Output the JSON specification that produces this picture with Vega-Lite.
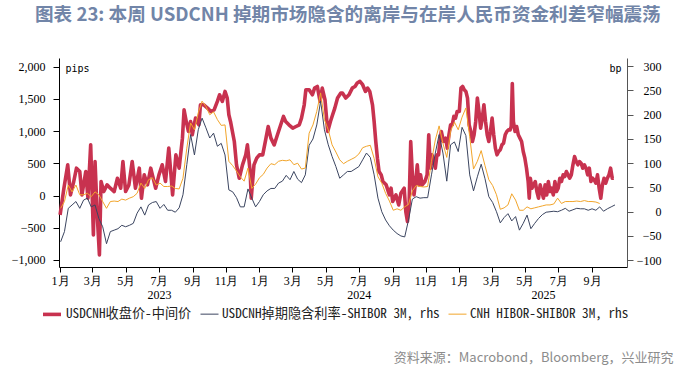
{
  "$schema": "https://vega.github.io/schema/vega-lite/v6.json",
  "width": 568,
  "height": 209,
  "autosize": "none",
  "padding": {"left": 59, "top": 58, "right": 72, "bottom": 100},
  "background": "white",
  "title": {
    "text": "图表 23: 本周 USDCNH 掉期市场隐含的离岸与在岸人民币资金利差窄幅震荡",
    "anchor": "start",
    "frame": "group",
    "dx": -24,
    "offset": 33,
    "font": "Noto Sans CJK SC",
    "fontSize": 18.6,
    "fontWeight": "bold",
    "color": "#7185a8"
  },
  "datasets": {
    "red": [
      {"d": "2023-01-01", "a": -300}, {"d": "2023-01-08", "a": 114}, {"d": "2023-01-15", "a": 477}, {"d": "2023-01-20", "a": 10},
      {"d": "2023-01-26", "a": 218}, {"d": "2023-01-31", "a": 425}, {"d": "2023-02-06", "a": 373}, {"d": "2023-02-10", "a": 10},
      {"d": "2023-02-17", "a": 373}, {"d": "2023-02-21", "a": -41}, {"d": "2023-02-26", "a": 787}, {"d": "2023-03-03", "a": -611},
      {"d": "2023-03-06", "a": 528}, {"d": "2023-03-10", "a": -300}, {"d": "2023-03-14", "a": -922}, {"d": "2023-03-17", "a": 218},
      {"d": "2023-03-22", "a": 62}, {"d": "2023-03-28", "a": 166}, {"d": "2023-04-03", "a": 114}, {"d": "2023-04-10", "a": 62},
      {"d": "2023-04-16", "a": 269}, {"d": "2023-04-22", "a": 114}, {"d": "2023-04-26", "a": 528}, {"d": "2023-05-01", "a": 62},
      {"d": "2023-05-07", "a": 166}, {"d": "2023-05-13", "a": 528}, {"d": "2023-05-19", "a": 114}, {"d": "2023-05-26", "a": 425},
      {"d": "2023-05-30", "a": -41}, {"d": "2023-06-04", "a": 321}, {"d": "2023-06-10", "a": 166}, {"d": "2023-06-16", "a": 425},
      {"d": "2023-06-19", "a": 321}, {"d": "2023-06-25", "a": 114}, {"d": "2023-07-01", "a": 321}, {"d": "2023-07-07", "a": 477},
      {"d": "2023-07-13", "a": 218}, {"d": "2023-07-19", "a": 736}, {"d": "2023-07-26", "a": 10}, {"d": "2023-08-01", "a": 632},
      {"d": "2023-08-07", "a": 425}, {"d": "2023-08-13", "a": 891}, {"d": "2023-08-16", "a": 1331}, {"d": "2023-08-20", "a": 1150},
      {"d": "2023-08-24", "a": 995}, {"d": "2023-08-28", "a": 1150}, {"d": "2023-08-31", "a": 943}, {"d": "2023-09-06", "a": 1202},
      {"d": "2023-09-12", "a": 1098}, {"d": "2023-09-15", "a": 1409}, {"d": "2023-09-21", "a": 1409}, {"d": "2023-09-28", "a": 1357},
      {"d": "2023-10-04", "a": 1305}, {"d": "2023-10-10", "a": 1331}, {"d": "2023-10-16", "a": 1461}, {"d": "2023-10-20", "a": 1564},
      {"d": "2023-10-25", "a": 1461}, {"d": "2023-10-30", "a": 1616}, {"d": "2023-11-03", "a": 1513}, {"d": "2023-11-06", "a": 1254},
      {"d": "2023-11-09", "a": 1150}, {"d": "2023-11-16", "a": 839}, {"d": "2023-11-20", "a": 477}, {"d": "2023-11-25", "a": 269},
      {"d": "2023-12-01", "a": 477}, {"d": "2023-12-07", "a": 632}, {"d": "2023-12-10", "a": 787}, {"d": "2023-12-15", "a": 373},
      {"d": "2023-12-17", "a": -41}, {"d": "2023-12-22", "a": 477}, {"d": "2023-12-27", "a": 580}, {"d": "2024-01-01", "a": 632},
      {"d": "2024-01-07", "a": 632}, {"d": "2024-01-13", "a": 891}, {"d": "2024-01-17", "a": 1072}, {"d": "2024-01-22", "a": 891},
      {"d": "2024-01-28", "a": 787}, {"d": "2024-02-03", "a": 943}, {"d": "2024-02-09", "a": 1098}, {"d": "2024-02-14", "a": 1228},
      {"d": "2024-02-18", "a": 1150}, {"d": "2024-02-24", "a": 1098}, {"d": "2024-03-02", "a": 1046}, {"d": "2024-03-08", "a": 1072},
      {"d": "2024-03-14", "a": 1098}, {"d": "2024-03-18", "a": 1202}, {"d": "2024-03-23", "a": 1409}, {"d": "2024-03-26", "a": 1642},
      {"d": "2024-04-01", "a": 1642}, {"d": "2024-04-07", "a": 1564}, {"d": "2024-04-11", "a": 1668}, {"d": "2024-04-16", "a": 1694},
      {"d": "2024-04-21", "a": 1461}, {"d": "2024-04-25", "a": 1668}, {"d": "2024-04-30", "a": 1487}, {"d": "2024-05-05", "a": 995},
      {"d": "2024-05-10", "a": 1150}, {"d": "2024-05-14", "a": 1254}, {"d": "2024-05-18", "a": 1357}, {"d": "2024-05-23", "a": 1513},
      {"d": "2024-05-29", "a": 1590}, {"d": "2024-06-01", "a": 1590}, {"d": "2024-06-07", "a": 1513}, {"d": "2024-06-13", "a": 1564},
      {"d": "2024-06-19", "a": 1668}, {"d": "2024-06-24", "a": 1694}, {"d": "2024-06-28", "a": 1746}, {"d": "2024-07-03", "a": 1772},
      {"d": "2024-07-08", "a": 1720}, {"d": "2024-07-13", "a": 1616}, {"d": "2024-07-17", "a": 1668}, {"d": "2024-07-21", "a": 1616},
      {"d": "2024-07-26", "a": 1409}, {"d": "2024-07-29", "a": 1150}, {"d": "2024-08-01", "a": 839}, {"d": "2024-08-04", "a": 580},
      {"d": "2024-08-07", "a": 373}, {"d": "2024-08-11", "a": 321}, {"d": "2024-08-14", "a": 218}, {"d": "2024-08-20", "a": 166},
      {"d": "2024-08-26", "a": 10}, {"d": "2024-08-29", "a": 114}, {"d": "2024-09-01", "a": -93}, {"d": "2024-09-04", "a": -41},
      {"d": "2024-09-07", "a": 10}, {"d": "2024-09-12", "a": -145}, {"d": "2024-09-16", "a": 36}, {"d": "2024-09-22", "a": 114},
      {"d": "2024-09-25", "a": -249}, {"d": "2024-09-28", "a": -404}, {"d": "2024-10-01", "a": -145}, {"d": "2024-10-04", "a": 839},
      {"d": "2024-10-07", "a": 321}, {"d": "2024-10-10", "a": 10}, {"d": "2024-10-13", "a": 218}, {"d": "2024-10-16", "a": 477},
      {"d": "2024-10-19", "a": 166}, {"d": "2024-10-22", "a": 321}, {"d": "2024-10-25", "a": 166}, {"d": "2024-10-30", "a": 218},
      {"d": "2024-11-03", "a": 321}, {"d": "2024-11-06", "a": 943}, {"d": "2024-11-09", "a": 425}, {"d": "2024-11-12", "a": 632},
      {"d": "2024-11-15", "a": 528}, {"d": "2024-11-18", "a": 425}, {"d": "2024-11-21", "a": 632}, {"d": "2024-11-24", "a": 632},
      {"d": "2024-11-27", "a": 891}, {"d": "2024-11-29", "a": 995}, {"d": "2024-12-03", "a": 839}, {"d": "2024-12-07", "a": 891},
      {"d": "2024-12-10", "a": 736}, {"d": "2024-12-13", "a": 943}, {"d": "2024-12-16", "a": 1098}, {"d": "2024-12-19", "a": 1098},
      {"d": "2024-12-22", "a": 1228}, {"d": "2024-12-25", "a": 1202}, {"d": "2024-12-28", "a": 1305}, {"d": "2025-01-01", "a": 1305},
      {"d": "2025-01-04", "a": 1668}, {"d": "2025-01-07", "a": 1694}, {"d": "2025-01-10", "a": 1642}, {"d": "2025-01-13", "a": 1616},
      {"d": "2025-01-16", "a": 1513}, {"d": "2025-01-19", "a": 1098}, {"d": "2025-01-22", "a": 995}, {"d": "2025-01-25", "a": 839},
      {"d": "2025-01-28", "a": 943}, {"d": "2025-01-31", "a": 1150}, {"d": "2025-02-03", "a": 1513}, {"d": "2025-02-06", "a": 1305},
      {"d": "2025-02-09", "a": 1046}, {"d": "2025-02-12", "a": 1202}, {"d": "2025-02-15", "a": 1409}, {"d": "2025-02-18", "a": 1150},
      {"d": "2025-02-21", "a": 943}, {"d": "2025-02-24", "a": 839}, {"d": "2025-02-27", "a": 995}, {"d": "2025-03-02", "a": 1202},
      {"d": "2025-03-05", "a": 943}, {"d": "2025-03-08", "a": 736}, {"d": "2025-03-11", "a": 632}, {"d": "2025-03-14", "a": 684},
      {"d": "2025-03-17", "a": 710}, {"d": "2025-03-20", "a": 787}, {"d": "2025-03-23", "a": 813}, {"d": "2025-03-26", "a": 943},
      {"d": "2025-03-29", "a": 995}, {"d": "2025-04-01", "a": 1020}, {"d": "2025-04-04", "a": 1020}, {"d": "2025-04-06", "a": 1072},
      {"d": "2025-04-08", "a": 1740}, {"d": "2025-04-10", "a": 1150}, {"d": "2025-04-13", "a": 995}, {"d": "2025-04-16", "a": 1072},
      {"d": "2025-04-19", "a": 943}, {"d": "2025-04-22", "a": 891}, {"d": "2025-04-25", "a": 839}, {"d": "2025-04-28", "a": 684},
      {"d": "2025-05-01", "a": 580}, {"d": "2025-05-04", "a": 425}, {"d": "2025-05-07", "a": 218}, {"d": "2025-05-09", "a": -41},
      {"d": "2025-05-11", "a": 269}, {"d": "2025-05-14", "a": 114}, {"d": "2025-05-20", "a": 218}, {"d": "2025-05-23", "a": 62},
      {"d": "2025-05-26", "a": -41}, {"d": "2025-05-29", "a": 166}, {"d": "2025-06-01", "a": 62}, {"d": "2025-06-04", "a": -41},
      {"d": "2025-06-07", "a": 166}, {"d": "2025-06-10", "a": 10}, {"d": "2025-06-13", "a": 218}, {"d": "2025-06-16", "a": 62},
      {"d": "2025-06-19", "a": 114}, {"d": "2025-06-22", "a": 10}, {"d": "2025-06-25", "a": 218}, {"d": "2025-06-28", "a": 62},
      {"d": "2025-07-01", "a": 114}, {"d": "2025-07-04", "a": 269}, {"d": "2025-07-07", "a": 218}, {"d": "2025-07-10", "a": 321},
      {"d": "2025-07-13", "a": 295}, {"d": "2025-07-16", "a": 373}, {"d": "2025-07-19", "a": 321}, {"d": "2025-07-22", "a": 269},
      {"d": "2025-07-25", "a": 321}, {"d": "2025-07-28", "a": 477}, {"d": "2025-07-31", "a": 606}, {"d": "2025-08-03", "a": 528},
      {"d": "2025-08-06", "a": 477}, {"d": "2025-08-09", "a": 528}, {"d": "2025-08-12", "a": 502}, {"d": "2025-08-15", "a": 425},
      {"d": "2025-08-18", "a": 477}, {"d": "2025-08-21", "a": 425}, {"d": "2025-08-24", "a": 321}, {"d": "2025-08-27", "a": 425},
      {"d": "2025-08-30", "a": 218}, {"d": "2025-09-02", "a": 269}, {"d": "2025-09-05", "a": 243}, {"d": "2025-09-08", "a": 192},
      {"d": "2025-09-11", "a": 321}, {"d": "2025-09-14", "a": 114}, {"d": "2025-09-17", "a": -41}, {"d": "2025-09-20", "a": 166},
      {"d": "2025-09-23", "a": 269}, {"d": "2025-09-26", "a": 192}, {"d": "2025-09-29", "a": 269}, {"d": "2025-10-02", "a": 321},
      {"d": "2025-10-05", "a": 425}, {"d": "2025-10-08", "a": 269}, {"d": "2025-10-11", "a": 269}
    ],
    "rates": [
      {"d": "2023-01-02", "b": -62, "c": 7}, {"d": "2023-01-09", "b": -41, "c": 21}, {"d": "2023-01-16", "b": 7, "c": 55},
      {"d": "2023-01-23", "b": 14, "c": 41}, {"d": "2023-01-30", "b": 21, "c": 55}, {"d": "2023-02-06", "b": 7, "c": 35},
      {"d": "2023-02-13", "b": 24, "c": 35}, {"d": "2023-02-20", "b": 28, "c": 38}, {"d": "2023-02-27", "b": 10, "c": 31},
      {"d": "2023-03-06", "b": 14, "c": 41}, {"d": "2023-03-13", "b": -14, "c": 35}, {"d": "2023-03-20", "b": -31, "c": 21},
      {"d": "2023-03-27", "b": -66, "c": 7}, {"d": "2023-04-03", "b": -41, "c": 21}, {"d": "2023-04-10", "b": -38, "c": 22},
      {"d": "2023-04-17", "b": -35, "c": 21}, {"d": "2023-04-24", "b": -28, "c": 26}, {"d": "2023-05-01", "b": -31, "c": 24},
      {"d": "2023-05-08", "b": -28, "c": 28}, {"d": "2023-05-15", "b": -24, "c": 31}, {"d": "2023-05-22", "b": -3, "c": 38},
      {"d": "2023-05-29", "b": 10, "c": 59}, {"d": "2023-06-05", "b": -7, "c": 48}, {"d": "2023-06-12", "b": 14, "c": 66},
      {"d": "2023-06-19", "b": 19, "c": 70}, {"d": "2023-06-26", "b": 21, "c": 55}, {"d": "2023-07-03", "b": 7, "c": 59},
      {"d": "2023-07-10", "b": 15, "c": 52}, {"d": "2023-07-17", "b": 3, "c": 52}, {"d": "2023-07-24", "b": 3, "c": 53},
      {"d": "2023-07-31", "b": -1, "c": 48}, {"d": "2023-08-07", "b": 8, "c": 47}, {"d": "2023-08-14", "b": 35, "c": 69},
      {"d": "2023-08-21", "b": 97, "c": 131}, {"d": "2023-08-28", "b": 159, "c": 183}, {"d": "2023-09-04", "b": 117, "c": 169},
      {"d": "2023-09-11", "b": 169, "c": 204}, {"d": "2023-09-18", "b": 193, "c": 228}, {"d": "2023-09-25", "b": 173, "c": 217},
      {"d": "2023-10-02", "b": 152, "c": 200}, {"d": "2023-10-09", "b": 162, "c": 206}, {"d": "2023-10-16", "b": 135, "c": 190},
      {"d": "2023-10-23", "b": 141, "c": 178}, {"d": "2023-10-30", "b": 117, "c": 179}, {"d": "2023-11-06", "b": 45, "c": 104},
      {"d": "2023-11-13", "b": 41, "c": 95}, {"d": "2023-11-20", "b": 29, "c": 84}, {"d": "2023-11-27", "b": 10, "c": 72},
      {"d": "2023-12-04", "b": 10, "c": 63}, {"d": "2023-12-11", "b": 47, "c": 90}, {"d": "2023-12-18", "b": 28, "c": 48},
      {"d": "2023-12-25", "b": 10, "c": 57}, {"d": "2024-01-01", "b": 21, "c": 70}, {"d": "2024-01-08", "b": 35, "c": 77},
      {"d": "2024-01-15", "b": 43, "c": 90}, {"d": "2024-01-22", "b": 48, "c": 99}, {"d": "2024-01-29", "b": 48, "c": 97},
      {"d": "2024-02-05", "b": 59, "c": 104}, {"d": "2024-02-12", "b": 63, "c": 106}, {"d": "2024-02-19", "b": 75, "c": 105},
      {"d": "2024-02-26", "b": 66, "c": 107}, {"d": "2024-03-04", "b": 83, "c": 97}, {"d": "2024-03-11", "b": 67, "c": 100},
      {"d": "2024-03-18", "b": 60, "c": 88}, {"d": "2024-03-25", "b": 76, "c": 90}, {"d": "2024-04-01", "b": 137, "c": 162},
      {"d": "2024-04-08", "b": 150, "c": 179}, {"d": "2024-04-15", "b": 179, "c": 207}, {"d": "2024-04-22", "b": 228, "c": 245},
      {"d": "2024-04-29", "b": 169, "c": 190}, {"d": "2024-05-06", "b": 138, "c": 169}, {"d": "2024-05-13", "b": 114, "c": 138},
      {"d": "2024-05-20", "b": 93, "c": 123}, {"d": "2024-05-27", "b": 69, "c": 107}, {"d": "2024-06-03", "b": 76, "c": 99},
      {"d": "2024-06-10", "b": 83, "c": 104}, {"d": "2024-06-17", "b": 83, "c": 108}, {"d": "2024-06-24", "b": 88, "c": 112},
      {"d": "2024-07-01", "b": 93, "c": 119}, {"d": "2024-07-08", "b": 107, "c": 132}, {"d": "2024-07-15", "b": 121, "c": 135},
      {"d": "2024-07-22", "b": 112, "c": 137}, {"d": "2024-07-29", "b": 76, "c": 110}, {"d": "2024-08-05", "b": 28, "c": 72},
      {"d": "2024-08-12", "b": 0, "c": 59}, {"d": "2024-08-19", "b": -17, "c": 38}, {"d": "2024-08-26", "b": -29, "c": 22},
      {"d": "2024-09-02", "b": -38, "c": 3}, {"d": "2024-09-09", "b": -45, "c": 6}, {"d": "2024-09-16", "b": -50, "c": 3},
      {"d": "2024-09-23", "b": -52, "c": 10}, {"d": "2024-09-30", "b": -17, "c": 15}, {"d": "2024-10-07", "b": 26, "c": 43},
      {"d": "2024-10-14", "b": 31, "c": 54}, {"d": "2024-10-21", "b": 28, "c": 52}, {"d": "2024-10-28", "b": 29, "c": 51},
      {"d": "2024-11-04", "b": 29, "c": 52}, {"d": "2024-11-11", "b": 76, "c": 104}, {"d": "2024-11-18", "b": 121, "c": 148},
      {"d": "2024-11-25", "b": 159, "c": 177}, {"d": "2024-12-02", "b": 121, "c": 141}, {"d": "2024-12-09", "b": 63, "c": 112},
      {"d": "2024-12-16", "b": 138, "c": 166}, {"d": "2024-12-23", "b": 144, "c": 185}, {"d": "2024-12-30", "b": 124, "c": 169},
      {"d": "2025-01-06", "b": 174, "c": 195}, {"d": "2025-01-13", "b": 157, "c": 214}, {"d": "2025-01-20", "b": 76, "c": 155},
      {"d": "2025-01-27", "b": 43, "c": 88}, {"d": "2025-02-03", "b": 72, "c": 104}, {"d": "2025-02-10", "b": 98, "c": 126},
      {"d": "2025-02-17", "b": 68, "c": 95}, {"d": "2025-02-24", "b": 31, "c": 66}, {"d": "2025-03-03", "b": 19, "c": 54},
      {"d": "2025-03-10", "b": 0, "c": 35}, {"d": "2025-03-17", "b": -23, "c": 5}, {"d": "2025-03-24", "b": -12, "c": 8},
      {"d": "2025-03-31", "b": -4, "c": 14}, {"d": "2025-04-07", "b": -19, "c": 37}, {"d": "2025-04-14", "b": -10, "c": 24},
      {"d": "2025-04-21", "b": -38, "c": 3}, {"d": "2025-04-28", "b": -24, "c": 3}, {"d": "2025-05-05", "b": -7, "c": 10},
      {"d": "2025-05-12", "b": -35, "c": 6}, {"d": "2025-05-19", "b": -24, "c": 8}, {"d": "2025-05-26", "b": -14, "c": 10},
      {"d": "2025-06-02", "b": -6, "c": 12}, {"d": "2025-06-09", "b": -1, "c": 14}, {"d": "2025-06-16", "b": 0, "c": 14},
      {"d": "2025-06-23", "b": 1, "c": 16}, {"d": "2025-06-30", "b": 0, "c": 28}, {"d": "2025-07-07", "b": 3, "c": 17},
      {"d": "2025-07-14", "b": 7, "c": 21}, {"d": "2025-07-21", "b": 1, "c": 21}, {"d": "2025-07-28", "b": 4, "c": 21},
      {"d": "2025-08-04", "b": 7, "c": 22}, {"d": "2025-08-11", "b": 6, "c": 21}, {"d": "2025-08-18", "b": 6, "c": 23},
      {"d": "2025-08-25", "b": 3, "c": 21}, {"d": "2025-09-01", "b": 6, "c": 21}, {"d": "2025-09-08", "b": 3, "c": 20},
      {"d": "2025-09-15", "b": 10, "c": 17}, {"d": "2025-09-22", "b": 1, "c": null}, {"d": "2025-09-29", "b": 6, "c": null},
      {"d": "2025-10-06", "b": 10, "c": null}, {"d": "2025-10-13", "b": 14, "c": null}
    ]
  },
  "layer": [
    {
      "data": {"name": "red"},
      "transform": [{"fold": ["a"], "as": ["key", "value"]}],
      "mark": {"type": "line", "strokeJoin": "round"},
      "encoding": {
        "x": {
          "field": "d", "type": "temporal",
          "scale": {"domain": [{"year": 2022, "month": 12, "date": 30}, {"year": 2025, "month": 11, "date": 4}]},
          "axis": {
            "orient": "bottom", "title": null, "grid": false,
            "values": [
              {"year": 2023, "month": 1, "date": 1}, {"year": 2023, "month": 3, "date": 1}, {"year": 2023, "month": 5, "date": 1},
              {"year": 2023, "month": 7, "date": 1}, {"year": 2023, "month": 9, "date": 1}, {"year": 2023, "month": 11, "date": 1},
              {"year": 2024, "month": 1, "date": 1}, {"year": 2024, "month": 3, "date": 1}, {"year": 2024, "month": 5, "date": 1},
              {"year": 2024, "month": 7, "date": 1}, {"year": 2024, "month": 9, "date": 1}, {"year": 2024, "month": 11, "date": 1},
              {"year": 2025, "month": 1, "date": 1}, {"year": 2025, "month": 3, "date": 1}, {"year": 2025, "month": 5, "date": 1},
              {"year": 2025, "month": 7, "date": 1}, {"year": 2025, "month": 9, "date": 1}
            ],
            "labelExpr": "timeFormat(datum.value, '%-m') + '月'",
            "domainColor": "#000000", "tickColor": "#000000", "tickSize": 5,
            "labelFont": "Liberation Serif", "labelFontSize": 12, "labelColor": "#000000",
            "labelPadding": 3, "labelFlush": false, "labelOverlap": false
          }
        },
        "y": {
          "field": "value", "type": "quantitative",
          "scale": {"domain": [-1109, 2135], "nice": false, "zero": false},
          "axis": {
            "orient": "left", "grid": false,
            "values": [-1000, -500, 0, 500, 1000, 1500, 2000],
            "domainColor": "#000000", "tickColor": "#000000", "tickSize": 6,
            "labelFont": "Liberation Serif", "labelFontSize": 12, "labelColor": "#000000",
            "labelPadding": 8,
            "title": "pips", "titleAngle": 0, "titleX": 6, "titleY": 10,
            "titleAlign": "left", "titleBaseline": "middle",
            "titleFont": "DejaVu Sans Mono", "titleFontSize": 10, "titleFontWeight": "normal", "titleColor": "#000000"
          }
        },
        "color": {
          "field": "key", "type": "nominal",
          "scale": {"domain": ["a", "b", "c"], "range": ["#c8324f", "#3b4560", "#f2a52b"]},
          "legend": {"labelExpr": "datum.label == 'a' ? 'USDCNH收盘价-中间价' : datum.label == 'b' ? 'USDCNH掉期隐含利率-SHIBOR 3M, rhs' : 'CNH HIBOR-SHIBOR 3M, rhs'"}
        },
        "strokeWidth": {
          "field": "key", "type": "nominal",
          "scale": {"type": "ordinal", "domain": ["a", "b", "c"], "range": [3.6, 1, 1]},
          "legend": {"labelExpr": "datum.label == 'a' ? 'USDCNH收盘价-中间价' : datum.label == 'b' ? 'USDCNH掉期隐含利率-SHIBOR 3M, rhs' : 'CNH HIBOR-SHIBOR 3M, rhs'"}
        }
      }
    },
    {
      "data": {"name": "rates"},
      "transform": [{"fold": ["b", "c"], "as": ["key", "value"]}],
      "mark": {"type": "line", "strokeJoin": "round"},
      "encoding": {
        "x": {
          "field": "d", "type": "temporal",
          "scale": {"domain": [{"year": 2022, "month": 12, "date": 30}, {"year": 2025, "month": 11, "date": 4}]},
          "axis": {
            "orient": "bottom", "grid": false, "domain": false, "ticks": false,
            "values": [{"year": 2023, "month": 7, "date": 1}, {"year": 2024, "month": 7, "date": 1}, {"year": 2025, "month": 6, "date": 3}],
            "labelExpr": "timeFormat(datum.value, '%Y')",
            "labelFont": "Liberation Serif", "labelFontSize": 12, "labelColor": "#000000",
            "labelPadding": 22, "labelFlush": false, "labelOverlap": false,
            "title": "资料来源：Macrobond，Bloomberg，兴业研究",
            "titleX": 614, "titleY": 90, "titleAlign": "right", "titleAnchor": null,
            "titleBaseline": "middle", "titleAngle": 0,
            "titleFont": "Noto Sans CJK SC", "titleFontSize": 13, "titleFontWeight": "normal", "titleColor": "#8c8c8c"
          }
        },
        "y": {
          "field": "value", "type": "quantitative",
          "scale": {"domain": [-114, 317], "nice": false, "zero": false},
          "axis": {
            "orient": "right", "grid": false,
            "values": [-100, -50, 0, 50, 100, 150, 200, 250, 300],
            "domainColor": "#555555", "tickColor": "#555555", "tickSize": 6,
            "labelFont": "Liberation Serif", "labelFontSize": 12, "labelColor": "#000000",
            "labelAlign": "right", "labelPadding": 28,
            "title": "bp", "titleAngle": 0, "titleX": -6, "titleY": 10,
            "titleAlign": "right", "titleBaseline": "middle",
            "titleFont": "DejaVu Sans Mono", "titleFontSize": 10, "titleFontWeight": "normal", "titleColor": "#000000"
          }
        },
        "color": {
          "field": "key", "type": "nominal",
          "scale": {"domain": ["a", "b", "c"], "range": ["#c8324f", "#3b4560", "#f2a52b"]},
          "legend": {"labelExpr": "datum.label == 'a' ? 'USDCNH收盘价-中间价' : datum.label == 'b' ? 'USDCNH掉期隐含利率-SHIBOR 3M, rhs' : 'CNH HIBOR-SHIBOR 3M, rhs'"}
        },
        "strokeWidth": {
          "field": "key", "type": "nominal",
          "scale": {"type": "ordinal", "domain": ["a", "b", "c"], "range": [3.6, 1, 1]},
          "legend": {"labelExpr": "datum.label == 'a' ? 'USDCNH收盘价-中间价' : datum.label == 'b' ? 'USDCNH掉期隐含利率-SHIBOR 3M, rhs' : 'CNH HIBOR-SHIBOR 3M, rhs'"}
        }
      }
    }
  ],
  "resolve": {"scale": {"y": "independent"}, "axis": {"x": "independent"}},
  "config": {
    "view": {"stroke": null},
    "legend": {
      "orient": "none", "legendX": -18, "legendY": 245,
      "direction": "horizontal", "title": null,
      "symbolType": "stroke", "symbolSize": 324,
      "labelFont": "Noto Sans Mono CJK SC, Liberation Mono", "labelFontSize": 13.2, "labelColor": "#222222",
      "labelOffset": 3, "columnPadding": 6, "labelLimit": 500
    }
  }
}
